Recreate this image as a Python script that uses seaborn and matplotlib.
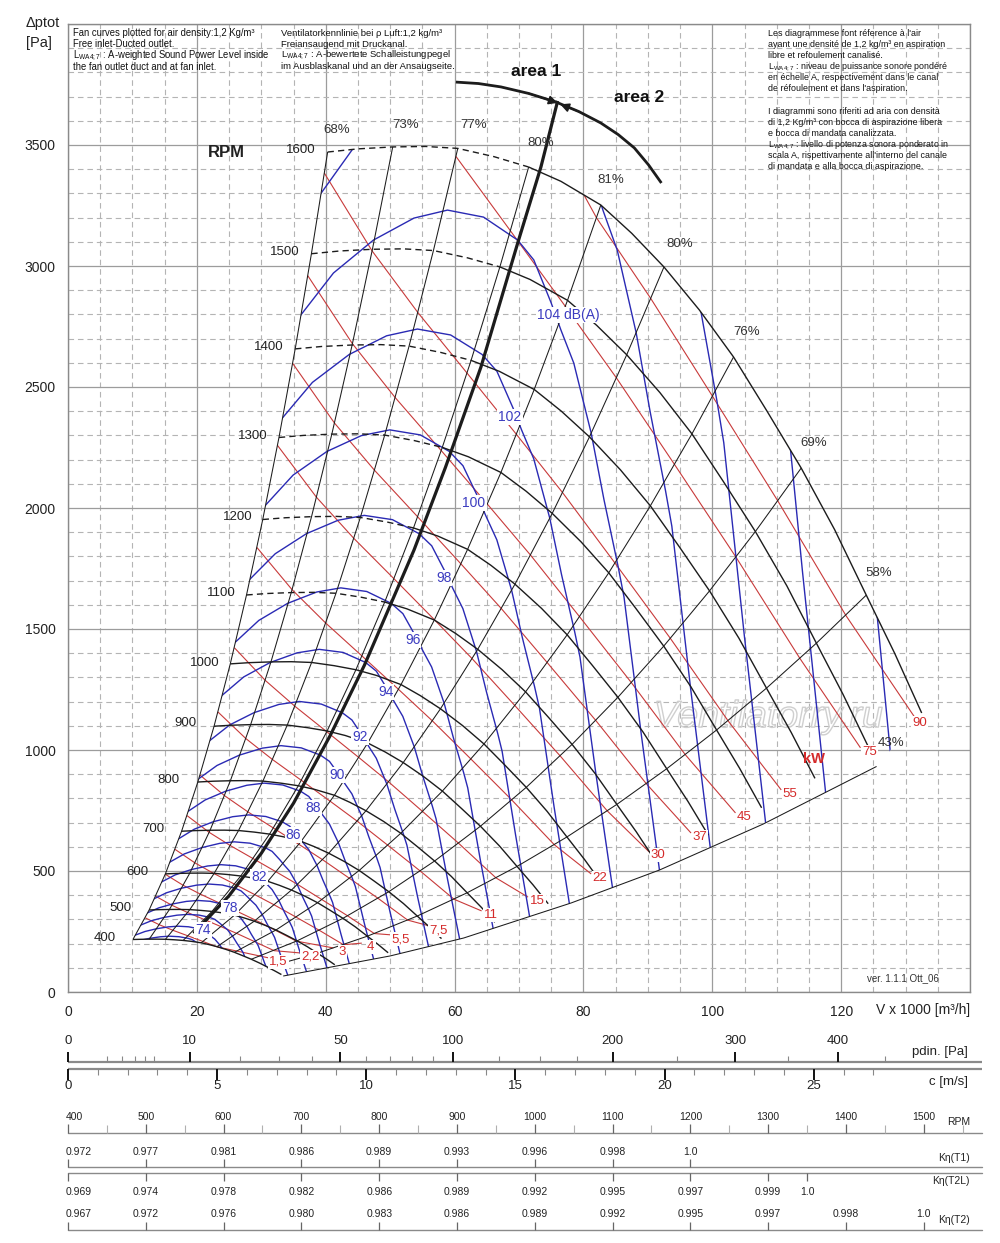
import numpy as np
import pandas as pd
import matplotlib
matplotlib.use("Agg")
import matplotlib.pyplot as plt
import matplotlib.patheffects as pe
from matplotlib.patches import Polygon
from matplotlib.ticker import MultipleLocator
import seaborn as sns

# ============ values (V in 1000 m3/h, p in Pa) ============
RPM_LEVELS = [400, 500, 600, 700, 800, 900, 1000, 1100, 1200, 1300, 1400, 1500, 1600]
REF_RPM = 1600
# characteristic at 1600 rpm; the other speeds follow the fan laws (V ~ n, p ~ n^2)
Q_1600 = [40.3, 45.0, 50.4, 55.5, 60.5, 66.1, 71.5, 76.5, 82.7, 87.5, 92.5, 98.0,
          103.3, 108.5, 113.8, 119.0, 123.9, 128.3, 132.5]
P_1600 = [3471, 3484, 3492, 3494, 3486, 3452, 3409, 3350, 3252, 3135, 2996, 2818,
          2624, 2400, 2165, 1910, 1640, 1400, 1153]
DASH_END_Q = 71.5          # left part dashed up to here (at 1600 rpm)
DASH_FROM_RPM = 1100
RPM_LABEL_Q = [5.75, 8.09, 10.73, 13.22, 15.55, 18.2, 21.3, 23.8, 26.3, 28.6, 31.1, 33.6, 36.1]
RPM_LABEL_P = [223, 347, 496, 674, 876, 1112, 1360, 1649, 1963, 2298, 2665, 3058, 3479]

# efficiency lines (crossing with the 1600 rpm curve)
EFF_TEXT = ["68%", "73%", "77%", "80%", "81%", "80%", "76%", "69%", "58%"]
EFF_VALUE = [0.68, 0.73, 0.77, 0.80, 0.81, 0.80, 0.76, 0.69, 0.58]
EFF_Q_1600 = [40.3, 50.4, 60.5, 71.5, 82.7, 92.5, 103.3, 113.8, 123.9]
EFF_P_1600 = [3471, 3492, 3486, 3409, 3252, 2996, 2624, 2165, 1640]
EFF_LABEL_Q = [41.7, 52.4, 63.0, 73.4, 84.3, 94.9, 105.3, 115.7, 125.8]
EFF_LABEL_P = [3562, 3583, 3583, 3508, 3355, 3091, 2727, 2269, 1731]
LINE43_Q = [33.4, 50.0, 61.4, 78.1, 91.8, 107.9, 125.5]
LINE43_P = [66, 149, 223, 368, 504, 694, 932]
LABEL43 = ("43%", 127.8, 1029)

# area 1 / area 2 boundary
THICK_Q = [19.5, 25.0, 30.0, 35.0, 40.7, 46.0, 53.7, 58.6, 64.1, 69.8, 73.4, 76.0]
THICK_P = [242, 398, 573, 780, 1060, 1350, 1826, 2169, 2583, 3095, 3409, 3682]
ARC_Q = [60.2, 63.7, 67.2, 71.5, 75.7, 79.3, 82.7, 85.4, 87.9, 90.1, 92.1]
ARC_P = [3760, 3754, 3740, 3713, 3678, 3638, 3591, 3543, 3488, 3418, 3343]

# sound power curves: 104 dB(A) curve read, 2 dB steps scale the flow by 1.086
DB_LEVELS = [70, 72, 74, 76, 78, 80, 82, 84, 86, 88, 90, 92, 94, 96, 98, 100, 102,
             104, 106, 108, 110, 112]
DB_BASE = 104
DB_BASE_Q = [33.0, 41.2, 47.4, 53.7, 58.9, 64.5, 69.8, 72.3, 75.0, 76.5, 78.5, 81.2,
             83.2, 85.4, 86.3, 89.0, 91.8, 92.4]
DB_BASE_P = [2690, 2971, 3107, 3198, 3231, 3202, 3107, 3025, 2847, 2736, 2599, 2310,
             2033, 1756, 1632, 1060, 504, 420]
DB_FLOW_RATIO_2DB = 1.086
DB_LABEL_TEXT = ["74", "78", "82", "86", "88", "90", "92", "94", "96", "98", "100", "102", "104 dB(A)"]
DB_LABEL_Q = [21.0, 25.2, 29.7, 35.0, 38.1, 41.7, 45.3, 49.3, 53.5, 58.3, 63.0, 68.6, 77.6]
DB_LABEL_P = [256, 347, 475, 649, 760, 897, 1054, 1240, 1455, 1711, 2021, 2376, 2797]

# absorbed power lines (kW)
KW_LEVELS = [1.5, 2.2, 3, 4, 5.5, 7.5, 11, 15, 22, 30, 37, 45, 55, 75, 90]
KW_TEXT = ["1,5", "2,2", "3", "4", "5,5", "7,5", "11", "15", "22", "30", "37", "45", "55", "75", "90"]
KW_LABEL_Q = [32.7, 37.6, 42.6, 47.0, 51.6, 57.5, 65.6, 72.8, 82.6, 91.6, 98.1, 105.0, 112.1, 124.4, 132.2]
KW_LABEL_P = [124, 145, 165, 186, 219, 256, 318, 376, 471, 566, 640, 723, 818, 992, 1112]
KW_END_Q = [31.3, 36.2, 41.2, 45.6, 50.2, 56.1, 64.2, 71.4, 81.2, 90.2, 96.7, 103.6, 110.7, 123.0, 131.4]
KW_END_P = [140, 161, 182, 202, 236, 273, 335, 392, 488, 579, 657, 740, 835, 1009, 1136]
KW_START_LEVEL = [90]
KW_START_Q = [80.1]
KW_START_P = [3293]

# bottom scales
PDIN_MAJOR = [0, 10, 50, 100, 200, 300, 400]
PDIN_MINOR = [1, 2, 3, 4, 5, 20, 30, 40, 60, 70, 80, 90, 125, 150, 175, 250, 350, 450]
AIR_DENSITY = 1.2
C_MAJOR = [0, 5, 10, 15, 20, 25]
C_MINOR = [1, 2, 3, 4, 6, 7, 8, 9, 11, 12, 13, 14, 16, 17, 18, 19, 21, 22, 23, 24, 26, 27]
C_TO_V = 4.63
RPM_SCALE_MAJOR = [400, 500, 600, 700, 800, 900, 1000, 1100, 1200, 1300, 1400, 1500]
RPM_SCALE_MINOR = [450, 550, 650, 750, 850, 950, 1050, 1150, 1250, 1350, 1450, 1550]
V_PER_RPM = 0.12075
KT1_RPM = [400, 500, 600, 700, 800, 900, 1000, 1100, 1200]
KT1_TEXT = ["0.972", "0.977", "0.981", "0.986", "0.989", "0.993", "0.996", "0.998", "1.0"]
KT2L_RPM = [400, 500, 600, 700, 800, 900, 1000, 1100, 1200, 1300, 1350]
KT2L_TEXT = ["0.969", "0.974", "0.978", "0.982", "0.986", "0.989", "0.992", "0.995", "0.997", "0.999", "1.0"]
KT2_RPM = [400, 500, 600, 700, 800, 900, 1000, 1100, 1200, 1300, 1400, 1500]
KT2_TEXT = ["0.967", "0.972", "0.976", "0.980", "0.983", "0.986", "0.989", "0.992", "0.995", "0.997", "0.998", "1.0"]

LWA = "L$_{\\mathrm{WA4;7}}$"
TEXT_EN = ["Fan curves plotted for air density:1,2 Kg/m³",
           "Free inlet-Ducted outlet.",
           LWA + " : A-weighted Sound Power Level inside",
           "the fan outlet duct and at fan inlet."]
TEXT_DE = ["Ventilatorkennlinie bei ρ Luft:1,2 kg/m³",
           "Freiansaugend mit Druckanal.",
           LWA + " : A-bewertete Schalleistungpegel",
           "im Ausblaskanal und an der Ansaugseite."]
TEXT_FR_IT = ["Les diagrammese font réference à l'air",
              "ayant une densité de 1,2 kg/m³ en aspiration",
              "libre et refoulement canalisé.",
              LWA + " : niveau de puissance sonore pondéré",
              "en échelle A, respectivement dans le canal",
              "de réfoulement et dans l'aspiration.",
              "",
              "I diagrammi sono riferiti ad aria con densità",
              "di 1,2 Kg/m³ con bocca di aspirazione libera",
              "e bocca di mandata canalizzata.",
              LWA + " : livello di potenza sonora ponderato in",
              "scala A, rispettivamente all'interno del canale",
              "di mandata e alla bocca di aspirazione."]

# ============================ drawing ============================
sns.set_theme(style="white")
plt.rcParams["font.family"] = ["Liberation Sans", "DejaVu Sans"]
plt.rcParams["mathtext.fontset"] = "custom"
plt.rcParams["mathtext.rm"] = "Liberation Sans"

W, H = 1000, 1243
fig = plt.figure(figsize=(W / 100, H / 100), dpi=100)
ax = fig.add_axes([68 / W, 1 - 992 / H, 902 / W, (992 - 24) / H])

BLUE = "#2a2ab4"
BLUE_T = "#3c3cc0"
RED = "#c83a3a"
RED_T = "#d42a2a"
BLACK = "#1c1c1c"


def draw_family(curves, color, lw, ls="-", zorder=2.0, clip=None):
    frames = [pd.DataFrame({"Q": np.asarray(q, float), "p": np.asarray(p, float), "cid": i})
              for i, (q, p) in enumerate(curves)]
    df = pd.concat(frames, ignore_index=True)
    n0 = len(ax.lines)
    sns.lineplot(data=df, x="Q", y="p", units="cid", estimator=None, sort=False,
                 color=color, linewidth=lw, linestyle=ls, legend=False, ax=ax,
                 zorder=zorder)
    new = ax.lines[n0:]
    for ln in new:
        ln.set_solid_capstyle("butt")
        ln.set_solid_joinstyle("round")
        if clip is not None:
            ln.set_clip_path(clip)
    return new


Q0 = np.array(Q_1600)
P0 = np.array(P_1600)
ratios = np.array(RPM_LEVELS) / REF_RPM

# region of the diagram (used to clip the sound curves)
left_q = [EFF_Q_1600[0] * r for r in ratios[::-1]]
left_p = [EFF_P_1600[0] * r * r for r in ratios[::-1]]
r_low = ratios[0]
reg_q = left_q + list(Q0 * r_low) + LINE43_Q + list(Q0[::-1])
reg_p = left_p + list(P0 * r_low ** 2) + LINE43_P + list(P0[::-1])
region = Polygon(np.column_stack([reg_q, reg_p]), closed=True, transform=ax.transData,
                 facecolor="none", edgecolor="none")
ax.add_patch(region)

# --- red kW lines ---
p_cross = [q / 3.6 * p / e / 1000.0 for q, p, e in zip(EFF_Q_1600, EFF_P_1600, EFF_VALUE)]
red_curves = []
for lvl, qe, pe_ in zip(KW_LEVELS, KW_END_Q, KW_END_P):
    k_end = pe_ / qe ** 2
    qs, ps = [], []
    for sl, sq, sp in zip(KW_START_LEVEL, KW_START_Q, KW_START_P):
        if sl == lvl:
            qs.append(sq)
            ps.append(sp)
    for q, p, pw in zip(EFF_Q_1600, EFF_P_1600, p_cross):
        r = (lvl / pw) ** (1.0 / 3.0)
        if 0.249 <= r <= 1.0 and p / q ** 2 > k_end:
            qs.append(q * r)
            ps.append(p * r * r)
    qs.append(qe)
    ps.append(pe_)
    red_curves.append((qs, ps))
draw_family(red_curves, RED, 0.8, zorder=2.0)

# --- blue sound power curves ---
blue_curves = []
for L in DB_LEVELS:
    s = DB_FLOW_RATIO_2DB ** ((L - DB_BASE) / 2.0)
    blue_curves.append((np.array(DB_BASE_Q) * s, np.array(DB_BASE_P) * s * s))
draw_family(blue_curves, BLUE, 1.0, zorder=2.1, clip=region)

# --- efficiency lines ---
eff_curves = [(q * ratios, p * ratios ** 2) for q, p in zip(EFF_Q_1600, EFF_P_1600)]
eff_curves.append((LINE43_Q, LINE43_P))
draw_family(eff_curves, BLACK, 0.75, zorder=2.2)

# --- rpm curves ---
solid, dashed = [], []
for n, r in zip(RPM_LEVELS, ratios):
    q, p = Q0 * r, P0 * r * r
    if n >= DASH_FROM_RPM:
        m1 = Q0 <= DASH_END_Q
        m2 = Q0 >= DASH_END_Q
        dashed.append((q[m1], p[m1]))
        solid.append((q[m2], p[m2]))
    else:
        solid.append((q, p))
draw_family(solid, BLACK, 1.0, zorder=2.3)
draw_family(dashed, BLACK, 1.0, ls=(0, (4.5, 3.0)), zorder=2.3)

# --- area boundary ---
draw_family([(THICK_Q, THICK_P)], BLACK, 2.3, zorder=2.5)
draw_family([(ARC_Q, ARC_P)], BLACK, 2.0, zorder=2.5)
cross = (THICK_Q[-1], THICK_P[-1] - 8)
ax.annotate("", xy=cross, xytext=(ARC_Q[3], ARC_P[3]),
            arrowprops=dict(arrowstyle="-|>", color=BLACK, lw=1.2, mutation_scale=13,
                            shrinkA=0, shrinkB=0), zorder=3)
ax.annotate("", xy=(cross[0] + 0.4, cross[1] - 6), xytext=(ARC_Q[5], ARC_P[5]),
            arrowprops=dict(arrowstyle="-|>", color=BLACK, lw=1.2, mutation_scale=13,
                            shrinkA=0, shrinkB=0), zorder=3)

ax.set_xlabel("")
ax.set_ylabel("")

# --- labels ---
box = dict(boxstyle="square,pad=0.08", fc="white", ec="none")
for t, q, p in zip(RPM_LEVELS, RPM_LABEL_Q, RPM_LABEL_P):
    ax.text(q, p, str(t), ha="center", va="center", fontsize=9.5, color="#222222", zorder=5)
for t, q, p in zip(EFF_TEXT, EFF_LABEL_Q, EFF_LABEL_P):
    ax.text(q, p, t, ha="center", va="center", fontsize=9.5, color="#333333", zorder=5)
ax.text(LABEL43[1], LABEL43[2], LABEL43[0], ha="center", va="center", fontsize=9.5,
        color="#333333", zorder=5)
for t, q, p in zip(DB_LABEL_TEXT, DB_LABEL_Q, DB_LABEL_P):
    ax.text(q, p, t, ha="center", va="center", fontsize=10, color=BLUE_T, bbox=box, zorder=5)
for t, q, p in zip(KW_TEXT, KW_LABEL_Q, KW_LABEL_P):
    ax.text(q, p, t, ha="center", va="center", fontsize=9.5, color=RED_T, bbox=box, zorder=5)
ax.text(115.7, 961, "kW", ha="center", va="center", fontsize=10.5, fontweight="bold",
        color=RED_T, zorder=5)
ax.text(24.6, 3471, "RPM", ha="center", va="center", fontsize=12, fontweight="bold",
        color="#222222", zorder=5)
ax.text(72.6, 3802, "area 1", ha="center", va="center", fontsize=12.5, fontweight="bold",
        color="#111111", zorder=5)
ax.text(88.6, 3698, "area 2", ha="center", va="center", fontsize=12.5, fontweight="bold",
        color="#111111", zorder=5)
ax.text(108.7, 1136, "Ventilatorry.ru", ha="center", va="center", fontsize=27,
        fontstyle="italic", color=(1, 1, 1, 0), zorder=1.5,
        path_effects=[pe.Stroke(linewidth=1.0, foreground="#cfcfcf")])

# --- axes, grid ---
ax.set_xlim(0, 140)
ax.set_ylim(0, 4000)
ax.xaxis.set_minor_locator(MultipleLocator(5))
ax.yaxis.set_minor_locator(MultipleLocator(100))
ax.set_xticks([0, 20, 40, 60, 80, 100, 120, 140])
ax.set_xticklabels(["0", "20", "40", "60", "80", "100", "120", ""])
ax.set_yticks([0, 500, 1000, 1500, 2000, 2500, 3000, 3500, 4000])
ax.set_yticklabels(["0", "500", "1000", "1500", "2000", "2500", "3000", "3500", ""])
ax.tick_params(which="both", length=0)
ax.tick_params(axis="x", labelsize=10, pad=9, colors="#222222")
ax.tick_params(axis="y", labelsize=10, pad=9, colors="#222222")
ax.set_axisbelow(True)
ax.grid(which="major", color="#9c9c9c", lw=0.9, ls="-")
ax.grid(which="minor", color="#b4b4b4", lw=0.8, ls=(0, (5, 3.5)))
for s in ax.spines.values():
    s.set_color("#8a8a8a")
    s.set_linewidth(1.0)


# --- figure texts ---
def ftxt(x, y, s, **kw):
    fig.text(x / W, 1 - y / H, s, **kw)


ftxt(26, 23, "Δptot", ha="left", va="center", fontsize=10.5, color="#222222")
ftxt(26, 43, "[Pa]", ha="left", va="center", fontsize=10.5, color="#222222")
ftxt(970, 1010, "V x 1000 [m³/h]", ha="right", va="center", fontsize=10, color="#222222")
ftxt(903, 978, "ver. 1.1.1 Ott_06", ha="center", va="center", fontsize=7, color="#333333")
for i, s in enumerate(TEXT_EN):
    ftxt(73, 33 + 11.2 * i, s, ha="left", va="center", fontsize=6.85, color="#111111")
for i, s in enumerate(TEXT_DE):
    ftxt(281, 33 + 11.2 * i, s, ha="left", va="center", fontsize=6.8, color="#111111")
for i, s in enumerate(TEXT_FR_IT):
    if s:
        ftxt(768, 33 + 11.15 * i, s, ha="left", va="center", fontsize=6.4, color="#111111")

# ======================== bottom scales ========================
axb = fig.add_axes([68 / W, 0.0, 902 / W, (H - 1022) / H])
axb.set_xlim(0, 140)
axb.set_ylim(H, 1022)
axb.axis("off")


def vx(px):
    return (px - 68) / 6.43


x_end = vx(980)
GRAY = "#8a8a8a"
TXT = "#222222"

# pdin
pd_major = [C_TO_V * np.sqrt(2 * v / AIR_DENSITY) for v in PDIN_MAJOR]
pd_minor = [C_TO_V * np.sqrt(2 * v / AIR_DENSITY) for v in PDIN_MINOR]
axb.plot([0, x_end], [1062, 1062], color=GRAY, lw=1.6, clip_on=False, solid_capstyle="butt")
axb.vlines(pd_major, 1052, 1062, color="#111111", lw=1.4, clip_on=False)
axb.vlines(pd_minor, 1056, 1062, color="#888888", lw=0.8, clip_on=False)
for v, x in zip(PDIN_MAJOR, pd_major):
    axb.text(x, 1041, str(v), ha="center", va="center", fontsize=9.5, color=TXT, clip_on=False)
axb.text(vx(966), 1052, "pdin. [Pa]", ha="right", va="center", fontsize=9.5, color=TXT, clip_on=False)

# c
c_major = [C_TO_V * v for v in C_MAJOR]
c_minor = [C_TO_V * v for v in C_MINOR]
axb.plot([0, x_end], [1068.5, 1068.5], color=GRAY, lw=1.6, clip_on=False, solid_capstyle="butt")
axb.vlines(c_major, 1069, 1080, color="#111111", lw=1.4, clip_on=False)
axb.vlines(c_minor, 1069, 1075, color="#888888", lw=0.8, clip_on=False)
for v, x in zip(C_MAJOR, c_major):
    axb.text(x, 1086, str(v), ha="center", va="center", fontsize=9.5, color=TXT, clip_on=False)
axb.text(vx(966), 1082, "c [m/s]", ha="right", va="center", fontsize=9.5, color=TXT, clip_on=False)


def rpm_x(rpm):
    return (rpm - 400) * V_PER_RPM


def scale_labels(rpms, texts, y):
    for i, (r, t) in enumerate(zip(rpms, texts)):
        x = rpm_x(r)
        if i == 0:
            axb.text(x - 0.4, y, t, ha="left", va="center", fontsize=7.5, color=TXT, clip_on=False)
        else:
            axb.text(x, y, t, ha="center", va="center", fontsize=7.5, color=TXT, clip_on=False)


# RPM scale
axb.plot([0, x_end], [1133, 1133], color=GRAY, lw=1.0, clip_on=False)
axb.vlines([rpm_x(r) for r in RPM_SCALE_MAJOR], 1124, 1133, color="#666666", lw=0.9, clip_on=False)
axb.vlines([rpm_x(r) for r in RPM_SCALE_MINOR], 1125, 1133, color="#b0b0b0", lw=0.8, clip_on=False)
scale_labels(RPM_SCALE_MAJOR, [str(r) for r in RPM_SCALE_MAJOR], 1117)
axb.text(vx(968), 1122, "RPM", ha="right", va="center", fontsize=7.5, color=TXT, clip_on=False)

# K eta (T1)
axb.plot([0, x_end], [1167, 1167], color=GRAY, lw=1.0, clip_on=False)
axb.vlines([rpm_x(r) for r in KT1_RPM], 1159, 1167, color="#666666", lw=0.9, clip_on=False)
scale_labels(KT1_RPM, KT1_TEXT, 1152)
axb.text(vx(968), 1158, "Kη(T1)", ha="right", va="center", fontsize=7.5, color=TXT, clip_on=False)

# K eta (T2L)
axb.plot([0, x_end], [1172.5, 1172.5], color=GRAY, lw=1.0, clip_on=False)
axb.vlines([rpm_x(r) for r in KT2L_RPM], 1172.5, 1181, color="#666666", lw=0.9, clip_on=False)
scale_labels(KT2L_RPM, KT2L_TEXT, 1192)
axb.text(vx(968), 1181, "Kη(T2L)", ha="right", va="center", fontsize=7.5, color=TXT, clip_on=False)

# K eta (T2)
axb.plot([0, x_end], [1230, 1230], color=GRAY, lw=1.0, clip_on=False)
axb.vlines([rpm_x(r) for r in KT2_RPM], 1222, 1230, color="#666666", lw=0.9, clip_on=False)
scale_labels(KT2_RPM, KT2_TEXT, 1214)
axb.text(vx(968), 1220, "Kη(T2)", ha="right", va="center", fontsize=7.5, color=TXT, clip_on=False)

fig.savefig("out.png", dpi=100)
